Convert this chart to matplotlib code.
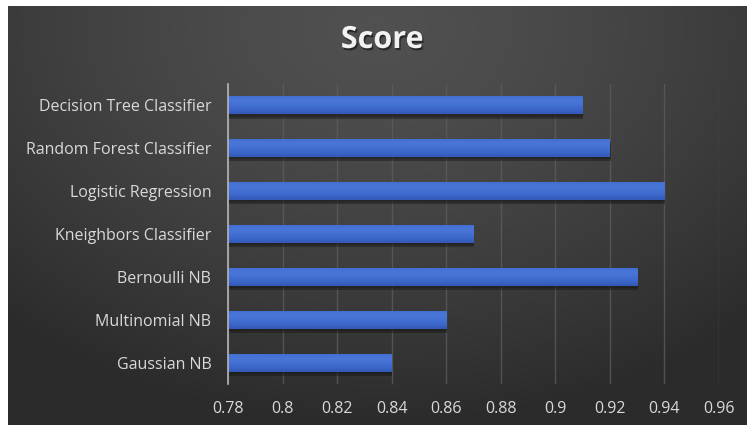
import numpy as np
import matplotlib
matplotlib.use("Agg")
import matplotlib.pyplot as plt
import matplotlib.patheffects as pe
from matplotlib.colors import LinearSegmentedColormap

plt.rcParams['font.family'] = ['Open Sans', 'DejaVu Sans']

models = ["Gaussian NB", "Multinomial NB", "Bernoulli NB", "Kneighbors Classifier",
          "Logistic Regression", "Random Forest Classifier", "Decision Tree Classifier"]
scores = [0.84, 0.86, 0.93, 0.87, 0.94, 0.92, 0.91]
xticks = [0.78, 0.80, 0.82, 0.84, 0.86, 0.88, 0.90, 0.92, 0.94, 0.96]
xtick_labels = ["0.78", "0.8", "0.82", "0.84", "0.86", "0.88", "0.9", "0.92", "0.94", "0.96"]

W, H = 747, 425
fig = plt.figure(figsize=(W / 100, H / 100), dpi=100)
fig.patch.set_facecolor("white")

# dark radial-gradient panel
bg = fig.add_axes([8 / W, 0, 1 - 8 / W, 1 - 6 / H])
bg.set_axis_off()
yy, xx = np.mgrid[0:200, 0:400]
d = np.sqrt(((xx / 399) - 0.5) ** 2 * 1.3 + ((yy / 199) - 0.05) ** 2 * 0.8)
v = 0.315 - 0.145 * np.clip(d / 0.85, 0, 1) ** 1.4
img = np.dstack([v, v, v])
bg.imshow(img, aspect="auto", extent=[0, 1, 0, 1], origin="upper", interpolation="bicubic")
bg.set_xlim(0, 1)
bg.set_ylim(0, 1)

# plot axes
left, right = 228 / W, 719 / W
x0, x1 = 0.78, 0.96
ax = fig.add_axes([left, 1 - 384 / H, right - left, (384 - 84) / H])
ax.patch.set_alpha(0)
ypos = np.arange(len(models))

for s in ["top", "right", "bottom"]:
    ax.spines[s].set_visible(False)
ax.spines["left"].set_color("#b5b5b5")
ax.spines["left"].set_linewidth(1.2)
ax.spines["left"].set_zorder(6)

ax.set_xticks(xticks)
ax.set_xticklabels(xtick_labels)
ax.set_yticks(ypos)
ax.set_yticklabels(models)
ax.tick_params(axis="both", length=0, colors="#d9d9d9", labelsize=11.5)
ax.tick_params(axis="x", pad=12)
ax.tick_params(axis="y", pad=12)
ax.grid(axis="x", color="#5e5e5e", linewidth=1.0, alpha=0.75)
ax.set_axisbelow(True)

bar_cmap = LinearSegmentedColormap.from_list(
    "barblue", ["#3259b8", "#3c66c9", "#4470d3", "#4a76d8", "#4270d2"])
grad = np.linspace(0, 1, 64).reshape(-1, 1)

bars = ax.barh(ypos, [s - x0 for s in scores], left=x0, height=0.42,
               color="#3f69cc", edgecolor="none", zorder=3)
for b in bars:
    b.set_path_effects([pe.SimplePatchShadow(offset=(0.5, -3.0), shadow_rgbFace="#161616", alpha=0.45),
                        pe.SimplePatchShadow(offset=(0.5, -1.5), shadow_rgbFace="#161616", alpha=0.35),
                        pe.Normal()])
    x, y = b.get_x(), b.get_y()
    w, h = b.get_width(), b.get_height()
    im = ax.imshow(grad, cmap=bar_cmap, aspect="auto", origin="lower",
                   extent=[x, x + w, y, y + h], zorder=4, interpolation="bicubic")
    im.set_clip_path(b)

ax.set_xlim(x0, x1)
ax.set_ylim(-0.5, len(models) - 0.5)

fig.text(382 / W, 1 - 40 / H, "Score", ha="center", va="center", fontsize=22,
         fontweight="bold", color="#f2f2f2",
         path_effects=[pe.withSimplePatchShadow(offset=(1, -1.5), shadow_rgbFace="black", alpha=0.5)])

fig.savefig("out.png", dpi=100, facecolor=fig.get_facecolor())
